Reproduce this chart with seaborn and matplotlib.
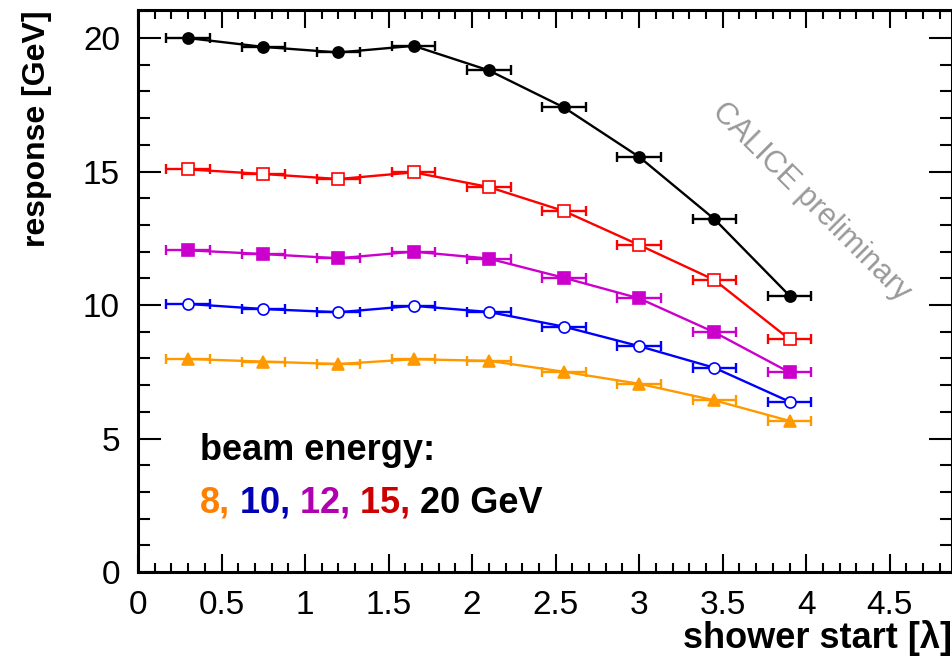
import numpy as np
import pandas as pd
import matplotlib
matplotlib.use("Agg")
import matplotlib.pyplot as plt
import seaborn as sns
from matplotlib.ticker import MultipleLocator, FuncFormatter

# shower start position (interaction lengths) and its bin half-width
shower_start = [0.3, 0.75, 1.2, 1.65, 2.1, 2.55, 3.0, 3.45, 3.9]
start_err = 0.13

# mean calorimeter response per beam energy [GeV]
resp_8 = [7.98, 7.88, 7.79, 7.97, 7.91, 7.50, 7.05, 6.43, 5.66]
resp_10 = [10.04, 9.85, 9.73, 9.97, 9.74, 9.19, 8.46, 7.65, 6.38]
resp_12 = [12.05, 11.91, 11.75, 12.00, 11.74, 11.02, 10.25, 8.98, 7.48]
resp_15 = [15.08, 14.91, 14.72, 14.97, 14.42, 13.52, 12.25, 10.94, 8.72]
resp_20 = [20.00, 19.67, 19.46, 19.71, 18.79, 17.40, 15.55, 13.22, 10.35]

energies = ["8", "10", "12", "15", "20"]
responses = [resp_8, resp_10, resp_12, resp_15, resp_20]

line_colors = ["#ff9900", "#0000ff", "#cc00cc", "#ff0000", "#000000"]
label_colors = ["#ff8000", "#0000b4", "#b000b0", "#cc0000", "#000000"]
markers = ["^", "o", "s", "s", "o"]
filled = [True, False, True, False, True]

df = pd.DataFrame({
    "energy": np.repeat(energies, len(shower_start)),
    "start": np.tile(shower_start, len(energies)),
    "response": np.concatenate(responses),
})

sns.set_style("ticks")
plt.rcParams["font.family"] = ["Liberation Sans", "DejaVu Sans"]
plt.rcParams.update({"text.color": "black", "axes.labelcolor": "black",
                     "xtick.color": "black", "ytick.color": "black"})

fig = plt.figure(figsize=(9.53, 6.70), dpi=100)
ax = fig.add_axes([0.1448, 0.1463, 0.8542, 0.8387])

for e, col, mk, fl in zip(energies, line_colors, markers, filled):
    sub = df[df["energy"] == e]
    ax.errorbar(sub["start"], sub["response"], xerr=start_err, fmt="none",
                ecolor=col, elinewidth=1.7, capsize=3.5, capthick=1.7, zorder=2)
    sns.lineplot(data=sub, x="start", y="response", ax=ax, color=col,
                 linewidth=1.7, marker=mk, markersize=8 if mk != "^" else 8.5,
                 markerfacecolor=col if fl else "white",
                 markeredgecolor=col, markeredgewidth=1.2,
                 sort=False, zorder=3, legend=False)

ax.set_xlim(0, 4.873)
ax.set_ylim(0, 21.05)
ax.xaxis.set_major_locator(MultipleLocator(0.5))
ax.xaxis.set_minor_locator(MultipleLocator(0.1))
ax.yaxis.set_major_locator(MultipleLocator(5))
ax.yaxis.set_minor_locator(MultipleLocator(1))
ax.xaxis.set_major_formatter(FuncFormatter(lambda v, p: f"{v:g}"))

ax.tick_params(which="both", direction="in", top=True, right=True,
               labeltop=False, labelright=False, width=1.5, color="black")
ax.tick_params(axis="x", which="major", length=13, pad=13, labelsize=24)
ax.tick_params(axis="x", which="minor", length=6.5)
ax.tick_params(axis="y", which="major", length=16.5, pad=13, labelsize=24)
ax.tick_params(axis="y", which="minor", length=8.5)
for s in ax.spines.values():
    s.set_linewidth(2.2)
    s.set_color("black")

ax.set_xlabel("shower start [λ]", fontsize=26, fontweight="bold", loc="right")
ax.set_ylabel("response [GeV]", fontsize=23, fontweight="bold", loc="top")
ax.xaxis.set_label_coords(1.0, -0.085)
ax.yaxis.set_label_coords(-0.106, 1.0)

# watermark
ax.text(4.03, 13.86, "CALICE preliminary", rotation=-45, rotation_mode="anchor",
        ha="center", va="center", color="#999999", fontsize=22)

# beam energy key
ax.text(0.37, 4.19, "beam energy:", fontsize=26, fontweight="bold",
        ha="left", va="baseline", color="black")
pieces = ["8,", " 10,", " 12,", " 15,", " 20 GeV"]
prev = ax.text(0.37, 2.21, pieces[0], fontsize=26, fontweight="bold",
               ha="left", va="baseline", color=label_colors[0])
for txt, col in zip(pieces[1:], label_colors[1:]):
    prev = ax.annotate(txt, xy=(1, 0), xycoords=prev, fontsize=26,
                       fontweight="bold", ha="left", va="bottom", color=col)

fig.savefig("out.png", dpi=100)
